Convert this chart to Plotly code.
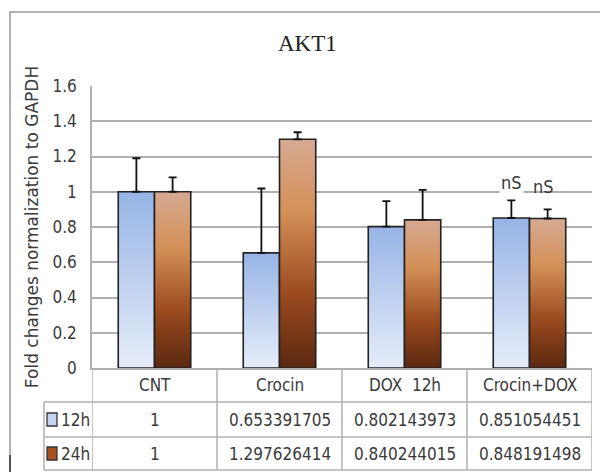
import plotly.graph_objects as go

# ---------------- data ----------------
categories = ["CNT", "Crocin", "DOX  12h", "Crocin+DOX"]
series_names = ["12h", "24h"]
values_12h = [1, 0.653391705, 0.802143973, 0.851054451]
values_24h = [1, 1.297626414, 0.840244015, 0.848191498]
errors_12h = [0.19, 0.365, 0.145, 0.10]
errors_24h = [0.082, 0.04, 0.17, 0.052]
table_12h = ["1", "0.653391705", "0.802143973", "0.851054451"]
table_24h = ["1", "1.297626414", "0.840244015", "0.848191498"]
sig_labels_12h = ["", "", "", "nS"]
sig_labels_24h = ["", "", "", "nS"]
y_ticks = [0, 0.2, 0.4, 0.6, 0.8, 1, 1.2, 1.4, 1.6]
y_ticktext = ["0", "0.2", "0.4", "0.6", "0.8", "1", "1.2", "1.4", "1.6"]

# ---------------- style ----------------
W, H = 600, 472
L, R, T, B = 92, 8, 86, 104          # plot area in px
PW, PH = W - L - R, H - T - B
NARROW = "Liberation Sans Narrow, DejaVu Sans Condensed, Arial Narrow, sans-serif"
TXT = "#3a3a3a"
GRID = "#b0b0b0"
BAR_W = 0.29
FS = 17

blue_scale = [[0, "#e6edf9"], [1, "#97b4e6"]]
brown_scale = [[0, "#5a2810"], [0.32, "#9a4a1e"], [0.68, "#d48f56"], [1, "#d6aa92"]]


def px_x(px):
    return (px - L) / PW


def px_y(py):
    return (H - B - py) / PH


fig = go.Figure()

# bars as gradient-filled polygons on the numeric category axis
for vals, errs, scale, name, off in [
    (values_12h, errors_12h, blue_scale, series_names[0], -1),
    (values_24h, errors_24h, brown_scale, series_names[1], 1),
]:
    for i, v in enumerate(vals):
        x0 = i if off > 0 else i - BAR_W
        x1 = i + BAR_W if off > 0 else i
        fig.add_trace(go.Scatter(
            x=[x0, x0, x1, x1, x0], y=[0, v, v, 0, 0],
            mode="lines", fill="toself",
            fillgradient=dict(type="vertical", colorscale=scale),
            line=dict(color="#222222", width=1.6),
            name=name, showlegend=False, hoverinfo="skip",
        ))
    centers = [i + off * BAR_W / 2 for i in range(len(vals))]
    fig.add_trace(go.Scatter(
        x=centers, y=vals, mode="markers",
        marker=dict(size=1, color="rgba(0,0,0,0)"),
        error_y=dict(type="data", symmetric=False, array=errs,
                     arrayminus=[0] * len(errs), color="#111111",
                     thickness=1.8, width=4),
        showlegend=False, name=name,
    ))

shapes = []
annotations = []


def ann(text, x, y, xref="paper", yref="paper", size=FS, family=NARROW, color=TXT, **kw):
    annotations.append(dict(text=text, x=x, y=y, xref=xref, yref=yref, showarrow=False,
                            xanchor="center", yanchor="middle",
                            font=dict(family=family, size=size, color=color), **kw))


# title
ann("AKT1", px_x(307), px_y(44), size=23,
    family="Liberation Serif, DejaVu Serif, serif", color="#222222")

# significance labels
for i, (s1, s2) in enumerate(zip(sig_labels_12h, sig_labels_24h)):
    if s1:
        ann(s1, i - BAR_W / 2, values_12h[i] + errors_12h[i] + 0.1, xref="x", yref="y",
            bgcolor="white", size=18)
    if s2:
        ann(s2, i + BAR_W / 2 - 0.03, values_24h[i] + errors_24h[i] + 0.13, xref="x", yref="y",
            size=18)

# data table below the plot
row_top, row1, row2, row_bot = 368, 402, 437, 470
tline = dict(color=GRID, width=1.5)
for k in range(len(categories) + 1):
    shapes.append(dict(type="line", xref="x", yref="paper", x0=k - 0.5, x1=k - 0.5,
                       y0=px_y(row_top), y1=px_y(row_bot), line=tline))
shapes.append(dict(type="line", xref="paper", yref="paper", x0=px_x(44), x1=px_x(44),
                   y0=px_y(row1), y1=px_y(row_bot), line=tline))
for yy in (row1, row2, row_bot):
    shapes.append(dict(type="line", xref="paper", yref="paper", x0=px_x(44), x1=1,
                       y0=px_y(yy), y1=px_y(yy), line=tline))

for i, c in enumerate(categories):
    ann(c, i, px_y((row_top + row1) / 2), xref="x")
    ann(table_12h[i], i, px_y((row1 + row2) / 2), xref="x")
    ann(table_24h[i], i, px_y((row2 + row_bot) / 2), xref="x")

# legend keys in the table
for (ya, yb), name, fillc in [((row1, row2), series_names[0], "#c4d4f0"),
                              ((row2, row_bot), series_names[1], "#a4521f")]:
    cy = (ya + yb) / 2
    shapes.append(dict(type="rect", xref="paper", yref="paper", x0=px_x(47), x1=px_x(57),
                       y0=px_y(cy + 6.5), y1=px_y(cy - 6.5), fillcolor=fillc,
                       line=dict(color="#333333", width=1.3)))
    ann(name, px_x(75), px_y(cy))

# outer chart border
shapes.append(dict(type="rect", xref="paper", yref="paper", x0=px_x(10), x1=px_x(640),
                   y0=px_y(520), y1=px_y(12), line=dict(color="#9a9a9a", width=1.5)))
shapes.append(dict(type="line", xref="paper", yref="paper", x0=px_x(10), x1=px_x(10),
                   y0=px_y(455), y1=px_y(472), line=dict(color="#333333", width=1.5)))

fig.update_layout(
    width=W, height=H,
    margin=dict(l=L, r=R, t=T, b=B, pad=0),
    paper_bgcolor="white", plot_bgcolor="white",
    showlegend=False,
    shapes=shapes, annotations=annotations,
    xaxis=dict(range=[-0.5, len(categories) - 0.5], showgrid=False, zeroline=False,
               showticklabels=False, ticks="", showline=True, linecolor=GRID, linewidth=1.5,
               fixedrange=True),
    yaxis=dict(range=[0, 1.6], tickvals=y_ticks, ticktext=y_ticktext,
               showgrid=True, gridcolor=GRID, gridwidth=1.5, zeroline=False,
               showline=True, linecolor=GRID, linewidth=1.5, ticks="",
               ticklabelstandoff=10,
               tickfont=dict(family=NARROW, size=FS, color=TXT),
               title=dict(text="Fold changes normalization to GAPDH", standoff=10,
                          font=dict(family="DejaVu Sans, sans-serif", size=17, color=TXT)),
               fixedrange=True),
)

fig.write_html("out.html", config={"displayModeBar": False},
               post_script="document.body.style.margin='0';")
